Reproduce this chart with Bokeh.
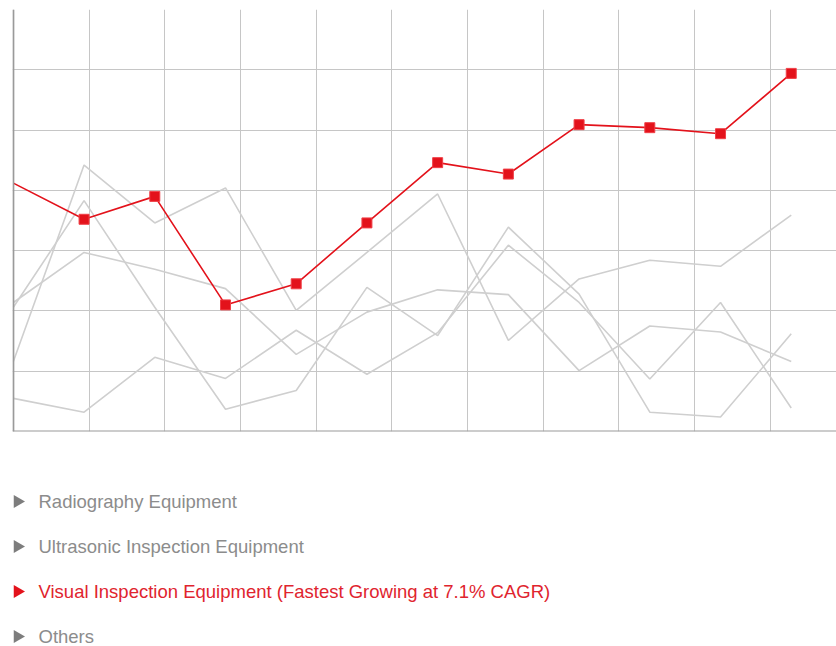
import numpy as np
from bokeh.plotting import figure
from bokeh.layouts import column
from bokeh.models import Range1d, Grid, FixedTicker, Span, ColumnDataSource
from bokeh.core.properties import value
from bokeh.embed import file_html
from bokeh.resources import INLINE

# Twelve yearly periods (unlabelled on the chart)
periods = list(range(12))

# Highlighted segment
visual_inspection = [41.2, 35.2, 39.0, 21.0, 24.5, 34.6, 44.6, 42.7, 50.9, 50.4, 49.4, 59.4]

# Background segments
radiography = [11.6, 44.2, 34.6, 40.4, 20.1, 29.7, 39.4, 15.1, 25.3, 28.4, 27.4, 35.9]
ultrasonic = [21.4, 29.7, 26.9, 23.7, 12.8, 19.8, 23.5, 22.7, 10.1, 17.5, 16.5, 11.6]
others = [20.6, 38.3, 20.6, 3.7, 6.8, 23.9, 15.9, 33.9, 22.8, 3.2, 2.4, 16.2]
remaining = [5.5, 3.2, 12.3, 8.8, 16.8, 9.5, 16.4, 30.9, 21.4, 8.7, 21.4, 3.9]

legend_labels = [
    "Radiography Equipment",
    "Ultrasonic Inspection Equipment",
    "Visual Inspection Equipment (Fastest Growing at 7.1% CAGR)",
    "Others",
]
highlight = 2

RED = "#e3121b"
RED_TEXT = "#e0242e"
GREY_LINE = "#cfcfcf"
GREY_GRID = "#c6c6c6"
GREY_TEXT = "#8c8c8c"
GREY_ARROW = "#7d7d7d"
AXIS = "#9a9a9a"
FONT = value("Liberation Sans")

LEFT = 12

# ---- main line chart -------------------------------------------------------
W, H = 836, 440
p = figure(width=W, height=H, output_backend="svg", toolbar_location=None,
           x_axis_type=None, y_axis_type=None,
           x_range=Range1d(-0.012, 11.64), y_range=Range1d(0, 70),
           min_border_left=LEFT, min_border_right=0,
           min_border_top=9, min_border_bottom=9)
p.outline_line_color = None
p.background_fill_color = "white"
p.border_fill_color = "white"

# decorative grid: 7 rows and evenly spaced columns independent of the data
p.extra_x_ranges = {"cols": Range1d(-0.011, 10.875)}
p.add_layout(Grid(dimension=0, ticker=FixedTicker(ticks=list(range(11))),
                  x_range_name="cols", grid_line_color=GREY_GRID, grid_line_width=1))
p.add_layout(Grid(dimension=1, ticker=FixedTicker(ticks=list(range(0, 71, 10))),
                  grid_line_color=GREY_GRID, grid_line_width=1))

for series in (radiography, ultrasonic, others, remaining):
    p.line(periods, series, line_color=GREY_LINE, line_width=1.6)

p.line(periods, visual_inspection, line_color=RED, line_width=1.6)
p.scatter(periods[1:], visual_inspection[1:], marker="square", size=10,
          fill_color=RED, line_color="#f04048", line_width=1)

# axis lines on the left and bottom edges
p.add_layout(Span(location=0, dimension="height", line_color=AXIS, line_width=2))
p.add_layout(Span(location=0, dimension="width", line_color=AXIS, line_width=2))

# ---- legend list below ------------------------------------------------------
LH = 646 - H
leg = figure(width=W, height=LH, output_backend="svg", toolbar_location=None,
             x_axis_type=None, y_axis_type=None,
             x_range=Range1d(LEFT, W), y_range=Range1d(LH, 0),
             min_border_left=LEFT, min_border_right=0,
             min_border_top=0, min_border_bottom=0)
leg.outline_line_color = None
leg.grid.visible = False

rows = [61 + 45 * i for i in range(len(legend_labels))]
arrow_colors = [RED if i == highlight else GREY_ARROW for i in range(len(legend_labels))]
text_colors = [RED_TEXT if i == highlight else GREY_TEXT for i in range(len(legend_labels))]
src = ColumnDataSource(dict(y=rows, label=legend_labels,
                            ac=arrow_colors, tc=text_colors,
                            ax=[17] * len(rows), tx=[38] * len(rows)))
leg.scatter(x="ax", y="y", source=src, marker="triangle", size=13,
            angle=-np.pi / 2, fill_color="ac", line_color=None)
leg.text(x="tx", y="y", text="label", source=src, text_color="tc",
         text_font=FONT, text_font_size="18.5px", text_baseline="middle")

layout = column(p, leg, spacing=0)
open("out.html", "w").write(file_html(layout, INLINE))
